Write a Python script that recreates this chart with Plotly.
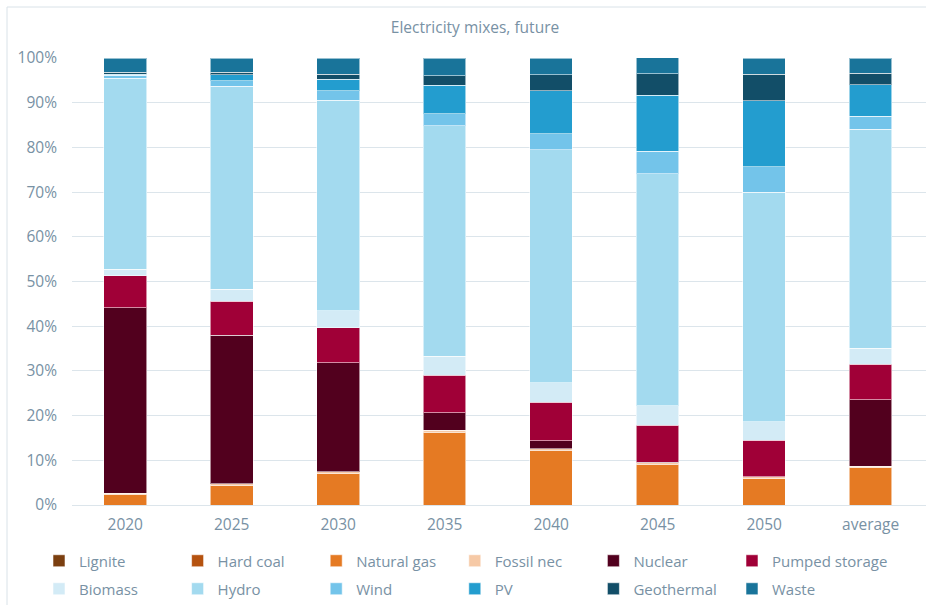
import plotly.graph_objects as go

categories = ["2020", "2025", "2030", "2035", "2040", "2045", "2050", "average"]

lignite        = [0, 0, 0, 0, 0, 0, 0, 0]
hard_coal      = [0, 0, 0, 0, 0, 0, 0, 0]
natural_gas    = [2.4, 4.3, 7.0, 16.3, 12.2, 9.1, 5.9, 8.3]
fossil_nec     = [0.2, 0.5, 0.4, 0.4, 0.4, 0.4, 0.4, 0.4]
nuclear        = [41.5, 33.2, 24.4, 3.9, 1.8, 0.1, 0.0, 14.9]
pumped_storage = [7.2, 7.6, 7.9, 8.4, 8.6, 8.2, 8.2, 7.9]
biomass        = [1.4, 2.7, 3.8, 4.3, 4.3, 4.4, 4.1, 3.6]
hydro          = [42.8, 45.4, 47.1, 51.6, 52.2, 51.9, 51.4, 49.0]
wind           = [0.6, 1.2, 2.1, 2.6, 3.6, 5.0, 5.7, 2.9]
pv             = [0.3, 1.3, 2.6, 6.4, 9.6, 12.6, 14.7, 7.0]
geothermal     = [0.4, 0.6, 1.1, 2.1, 3.5, 4.8, 6.0, 2.6]
waste          = [3.2, 3.2, 3.6, 4.0, 3.7, 3.6, 3.6, 3.4]

series_names = ["Lignite", "Hard coal", "Natural gas", "Fossil nec", "Nuclear", "Pumped storage",
                "Biomass", "Hydro", "Wind", "PV", "Geothermal", "Waste"]
series_values = [lignite, hard_coal, natural_gas, fossil_nec, nuclear, pumped_storage,
                 biomass, hydro, wind, pv, geothermal, waste]
series_colors = ["#7B3F10", "#B5520F", "#E57A23", "#F6C9A6", "#52001E", "#A00037",
                 "#D3EBF6", "#A3DAEF", "#73C4EA", "#239DCF", "#124E68", "#19749A"]

W, H = 926, 605
ML, MR, MT, MB = 72, 0, 58, 100
PW = W - ML - MR
PH = H - MT - MB

axis_color = "#7891A4"
font_family = "Open Sans, Noto Sans, sans-serif"

# legend grid: 2 rows x 6 columns, one small legend box per entry
item_step = 138.6
legend_x0 = 39
row_y = [561, 589]

fig = go.Figure()
legend_layouts = {}
for i, (name, vals, col) in enumerate(zip(series_names, series_values, series_colors)):
    row, col_idx = divmod(i, 6)
    lid = "legend" if i == 0 else f"legend{i + 1}"
    fig.add_trace(go.Bar(
        x=categories, y=vals, name=name,
        marker=dict(color=col, line=dict(color="rgba(255,255,255,0.55)", width=1)),
        legend=lid, showlegend=True,
        hovertemplate="%{x}<br>" + name + ": %{y:.1f}%<extra></extra>",
    ))
    legend_layouts[lid] = dict(
        orientation="h", xref="container", yref="container",
        x=(legend_x0 + col_idx * item_step) / W, xanchor="left",
        y=1 - row_y[row] / H, yanchor="middle",
        font=dict(family=font_family, size=15, color=axis_color),
        bgcolor="rgba(0,0,0,0)", itemclick=False, itemdoubleclick=False,
    )

fig.update_layout(
    width=W, height=H, autosize=False, showlegend=True,
    margin=dict(l=ML, r=MR, t=MT, b=MB, pad=0),
    paper_bgcolor="white", plot_bgcolor="white",
    barmode="stack", bargap=0.6,
    font=dict(family=font_family, color=axis_color),
    title=dict(text="Electricity mixes, future", x=475 / W, xref="container", xanchor="center",
               y=1 - 28 / H, yref="container", yanchor="middle",
               font=dict(family=font_family, size=15.5, color=axis_color)),
    xaxis=dict(type="category", categoryorder="array", categoryarray=categories,
               range=[-0.5, 7.52], showgrid=False, showline=False, zeroline=False,
               ticks="", tickfont=dict(size=15.5, color=axis_color), ticklabelstandoff=8),
    yaxis=dict(range=[0, 100], dtick=10, ticksuffix="%", showgrid=True,
               gridcolor="#DCE5EB", gridwidth=1, zeroline=True, zerolinecolor="#DCE5EB",
               zerolinewidth=1, showline=False, ticks="",
               tickfont=dict(size=15.5, color=axis_color), ticklabelstandoff=14),
    shapes=[dict(type="rect", xref="paper", yref="paper",
                 x0=(7 - ML) / PW, x1=1.05, y0=-0.3, y1=1 + (MT - 7) / PH,
                 line=dict(color="#D9E2E8", width=1), fillcolor="rgba(0,0,0,0)", layer="below")],
    **legend_layouts,
)

fig.write_html("out.html")
